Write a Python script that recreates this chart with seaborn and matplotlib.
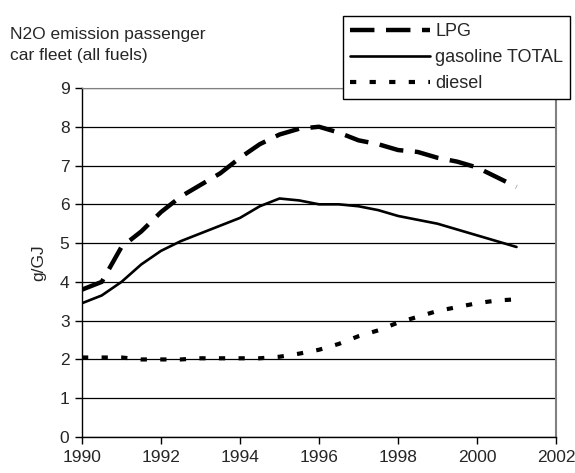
import pandas as pd
import seaborn as sns
from matplotlib import pyplot as plt

years = [1990, 1990.5, 1991, 1991.5, 1992, 1992.5, 1993, 1993.5, 1994, 1994.5,
         1995, 1995.5, 1996, 1996.5, 1997, 1997.5, 1998, 1998.5, 1999, 1999.5,
         2000, 2000.5, 2001]
lpg = [3.8, 4.0, 4.9, 5.3, 5.8, 6.2, 6.5, 6.8, 7.2, 7.55,
       7.8, 7.95, 8.0, 7.85, 7.65, 7.55, 7.4, 7.35, 7.2, 7.1,
       6.95, 6.7, 6.45]
gasoline = [3.45, 3.65, 4.0, 4.45, 4.8, 5.05, 5.25, 5.45, 5.65, 5.95,
            6.15, 6.1, 6.0, 6.0, 5.95, 5.85, 5.7, 5.6, 5.5, 5.35,
            5.2, 5.05, 4.9]
diesel = [2.05, 2.05, 2.05, 2.0, 2.0, 2.0, 2.03, 2.03, 2.03, 2.03,
          2.07, 2.15, 2.25, 2.4, 2.6, 2.75, 2.95, 3.1, 3.25, 3.35,
          3.45, 3.52, 3.55]

df = pd.DataFrame({'year': years, 'LPG': lpg,
                   'gasoline TOTAL': gasoline, 'diesel': diesel})

sns.set_style('white')
plt.rcParams['font.family'] = ['Liberation Sans', 'DejaVu Sans']

fig = plt.figure(figsize=(5.75, 4.73), dpi=100)
ax = fig.add_axes([0.1426, 0.0761, 0.967 - 0.1426, 0.814 - 0.0761])

sns.lineplot(data=df, x='year', y='LPG', ax=ax, color='black', lw=3.2,
             label='LPG').lines[-1].set_dashes([5.5, 2.6])
sns.lineplot(data=df, x='year', y='gasoline TOTAL', ax=ax, color='black',
             lw=1.9, label='gasoline TOTAL')
line = sns.lineplot(data=df, x='year', y='diesel', ax=ax, color='black',
                    lw=3, label='diesel').lines[-1]
line.set_dashes([1.5, 3.2])
line.set_dash_capstyle('butt')

ax.set_xlim(1990, 2002)
ax.set_ylim(0, 9)
ax.set_xticks(range(1990, 2003, 2))
ax.set_yticks(range(0, 10))
ax.tick_params(labelsize=12.5, length=5, width=1, direction='out',
               bottom=True, left=True, color='black', pad=4)
ax.grid(axis='y', color='black', lw=0.9)
ax.set_axisbelow(True)
for s in ['left', 'bottom']:
    ax.spines[s].set_color('black')
    ax.spines[s].set_linewidth(1)
ax.spines['right'].set_color('#808080')
ax.spines['right'].set_linewidth(1.5)
ax.spines['top'].set_color('#808080')
ax.set_xlabel('')
ax.set_ylabel('g/GJ', fontsize=12.5, labelpad=10)

fig.text(0.017, 0.943, 'N2O emission passenger\ncar fleet (all fuels)',
         fontsize=12.5, va='top', linespacing=1.5)

leg = ax.legend(loc='upper left', bbox_to_anchor=(343 / 575, 1 - 16 / 473),
                bbox_transform=fig.transFigure, fontsize=13, frameon=True,
                fancybox=False, handlelength=4.4, borderaxespad=0,
                borderpad=0.4, labelspacing=0.5, handletextpad=0.3)
leg.get_frame().set_edgecolor('black')
leg.get_frame().set_linewidth(1)
leg.get_frame().set_alpha(1)

fig.savefig('out.png', dpi=100)
